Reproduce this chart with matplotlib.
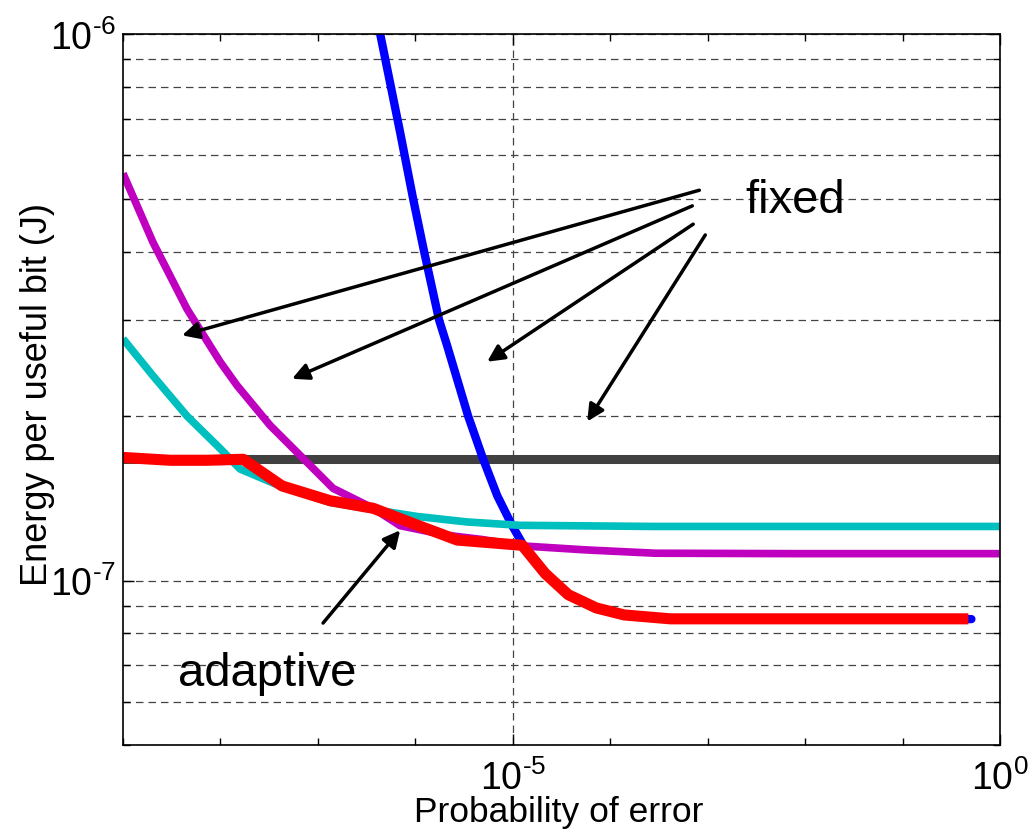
import numpy as np
import matplotlib
matplotlib.use('Agg')
import matplotlib.pyplot as plt
import matplotlib.ticker as mticker

plt.rcParams['font.family'] = ['Liberation Sans', 'DejaVu Sans']
plt.rcParams['mathtext.fontset'] = 'custom'
plt.rcParams['mathtext.rm'] = 'Liberation Sans'
plt.rcParams['mathtext.it'] = 'Liberation Sans:italic'
plt.rcParams['mathtext.bf'] = 'Liberation Sans:bold'

# values: x = probability of error, y = energy per useful bit (J)
blue_x = [4.19e-7, 4.36e-7, 6.98e-7, 9.48e-7, 1.23e-6, 1.75e-6, 2.12e-6, 3.48e-6,
          4.97e-6, 6.92e-6, 9.86e-6, 1.25e-5, 2.15e-5, 3.71e-5, 7.18e-5, 1.39e-4, 4.13e-4, 0.508]
blue_y = [1.05e-6, 1.0e-6, 6.61e-7, 5.0e-7, 4.0e-7, 3.0e-7, 2.69e-7, 2.0e-7,
          1.667e-7, 1.43e-7, 1.26e-7, 1.17e-7, 1.03e-7, 9.42e-8, 8.91e-8, 8.65e-8, 8.5e-8, 8.5e-8]

purple_x = [1e-9, 2.03e-9, 4.54e-9, 9.9e-9, 1.48e-8, 3.23e-8, 6.56e-8, 1.43e-7, 3.69e-7,
            6.98e-7, 2.12e-6, 4.62e-6, 1.37e-5, 5.53e-5, 2.9e-4, 8.1e-3, 1.0]
purple_y = [5.56e-7, 4.16e-7, 3.14e-7, 2.515e-7, 2.275e-7, 1.923e-7, 1.695e-7, 1.475e-7, 1.356e-7,
            1.26e-7, 1.21e-7, 1.19e-7, 1.156e-7, 1.138e-7, 1.122e-7, 1.12e-7, 1.12e-7]

cyan_x = [1e-9, 2.03e-9, 4.54e-9, 9.9e-9, 1.59e-8, 4.09e-8, 1.33e-7, 4.06e-7, 1.04e-6,
          3.4e-6, 1.19e-5, 2.9e-4, 1.0]
cyan_y = [2.77e-7, 2.37e-7, 2.0e-7, 1.745e-7, 1.60e-7, 1.49e-7, 1.39e-7, 1.345e-7, 1.31e-7,
          1.28e-7, 1.262e-7, 1.256e-7, 1.256e-7]

gray_x = [1e-9, 1.0]
gray_y = [1.667e-7, 1.667e-7]

red_x = [1e-9, 3.04e-9, 7.28e-9, 1.71e-8, 4.28e-8, 1.33e-7, 3.69e-7, 1.12e-6, 2.69e-6,
         1.25e-5, 2.15e-5, 3.71e-5, 7.18e-5, 1.39e-4, 4.13e-4, 0.473]
red_y = [1.68e-7, 1.66e-7, 1.66e-7, 1.667e-7, 1.49e-7, 1.40e-7, 1.356e-7, 1.257e-7, 1.186e-7,
         1.16e-7, 1.03e-7, 9.42e-8, 8.91e-8, 8.65e-8, 8.51e-8, 8.51e-8]

# annotation arrows (tail -> head), data coords
fixed_tails = [(8.2e-4, 5.18e-7), (6.95e-4, 4.85e-7), (7.1e-4, 4.49e-7), (9.44e-4, 4.29e-7)]
fixed_heads = [(4.04e-9, 2.81e-7), (5.43e-8, 2.34e-7), (5.46e-6, 2.515e-7), (5.81e-5, 1.955e-7)]
adaptive_tail = (1.13e-7, 8.36e-8)
adaptive_head = (6.98e-7, 1.236e-7)

fig = plt.figure(figsize=(10.31, 8.37), dpi=100)
ax = fig.add_axes([0.1193, 0.1087, 0.8507, 0.8493])

ax.plot(gray_x, gray_y, color='#404040', lw=6.5, solid_capstyle='butt')
ax.plot(blue_x, blue_y, color='#0000ff', lw=6, solid_capstyle='round')
ax.plot(purple_x, purple_y, color='#bf00bf', lw=5.5, solid_capstyle='butt')
ax.plot(cyan_x, cyan_y, color='#00bfbf', lw=5.5, solid_capstyle='butt')
ax.plot(red_x, red_y, color='#ff0000', lw=8, solid_capstyle='butt')

ax.set_xscale('log')
ax.set_yscale('log')
ax.set_xlim(1e-9, 1)
ax.set_ylim(5e-8, 1e-6)

# MATLAB style labels: 10 with a short hyphen in the exponent
fmt = mticker.FuncFormatter(
    lambda v, p: '$\\mathregular{10^{%s}}$' % str(round(np.log10(v))).replace('-', '\u2010'))
ax.xaxis.set_major_locator(mticker.FixedLocator([1e-5, 1e0]))
ax.xaxis.set_minor_locator(mticker.FixedLocator([10.0 ** k for k in range(-9, 1)]))
ax.xaxis.set_major_formatter(fmt)
ax.xaxis.set_minor_formatter(mticker.NullFormatter())
ax.yaxis.set_major_locator(mticker.FixedLocator([1e-7, 1e-6]))
ax.yaxis.set_minor_locator(mticker.LogLocator(base=10, subs=np.arange(2, 10)))
ax.yaxis.set_major_formatter(fmt)
ax.yaxis.set_minor_formatter(mticker.NullFormatter())

ax.tick_params(which='both', direction='in', top=True, right=True, labelsize=27, width=1)
ax.tick_params(which='major', length=8)
ax.tick_params(which='minor', length=5)
ax.tick_params(axis='x', pad=10)
ax.tick_params(axis='y', pad=5)

ax.grid(True, axis='x', which='major', ls=(0, (6, 4)), color='#444444', lw=0.9)
ax.grid(True, axis='y', which='both', ls=(0, (6, 4)), color='#444444', lw=0.9)
for s in ax.spines.values():
    s.set_linewidth(1.2)

ax.set_xlabel('Probability of error', fontsize=25.5)
ax.set_ylabel('Energy per useful bit (J)', fontsize=26)
ax.xaxis.set_label_coords(0.497, -0.0705)
ax.yaxis.set_label_coords(-0.077, 0.495)

for t, h in zip(fixed_tails, fixed_heads):
    ax.annotate('', xy=h, xytext=t,
                arrowprops=dict(arrowstyle='-|>', color='k', lw=2.5, mutation_scale=25,
                                shrinkA=0, shrinkB=0))
ax.annotate('', xy=adaptive_head, xytext=adaptive_tail,
            arrowprops=dict(arrowstyle='-|>', color='k', lw=2.5, mutation_scale=25,
                            shrinkA=0, shrinkB=0))

ax.text(2.43e-3, 4.72e-7, 'fixed', fontsize=34, ha='left', va='baseline')
ax.text(3.67e-9, 6.45e-8, 'adaptive', fontsize=34, ha='left', va='baseline')

fig.savefig('out.png', dpi=100)
